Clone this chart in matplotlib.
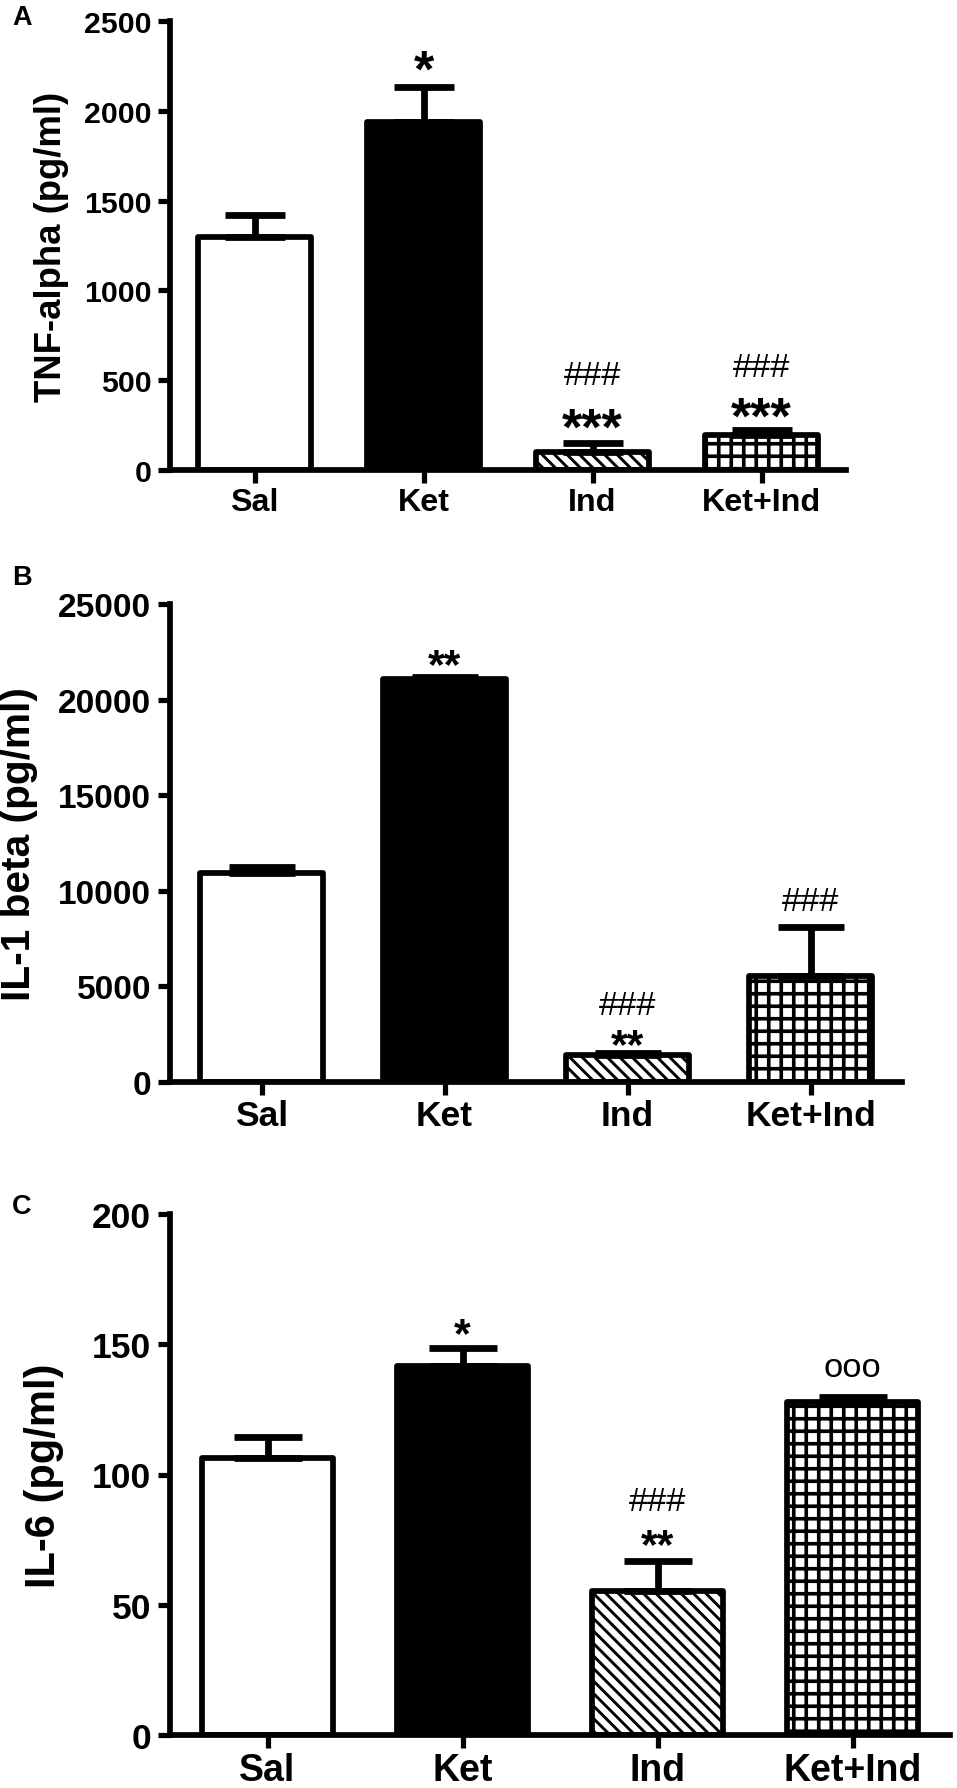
import matplotlib
matplotlib.use('Agg')
import matplotlib.pyplot as plt
from matplotlib.textpath import TextPath
from matplotlib.font_manager import FontProperties

groups = ['Sal', 'Ket', 'Ind', 'Ket+Ind']

tnf_mean = [1300, 1940, 100, 197]
tnf_sem = [120, 195, 49, 24]
il1_mean = [10950, 21100, 1390, 5520]
il1_sem = [280, 80, 140, 2590]
il6_mean = [106.5, 141.8, 55.2, 127.8]
il6_sem = [8.0, 6.7, 11.5, 2.1]

# significance marks: (bar index, text, y in data units)
tnf_marks = [(1, '*', 2288), (2, '***', 295), (2, '###', 546),
             (3, '***', 356), (3, '###', 590)]
il1_marks = [(1, '**', 22300), (2, '**', 2440), (2, '###', 4160),
             (3, '###', 9600)]
il6_marks = [(1, '*', 157.6), (2, '**', 76.5), (2, '###', 90.8),
             (3, 'ooo', 141.3)]

FONT = 'Liberation Sans'
plt.rcParams['font.family'] = [FONT, 'DejaVu Sans']
plt.rcParams['hatch.linewidth'] = 3.0
plt.rcParams['hatch.color'] = 'black'

DPI = 75
W, H = 957, 1789
fig = plt.figure(figsize=(W / DPI, H / DPI), dpi=DPI)

faces = ['white', 'black', 'white', 'white']
hatches = [None, None, '\\\\', '+']
hatch_lw = [None, None, 2.8, 3.5]

# panel layout in pixels: left, right, top, bottom
panels = [
    dict(box=(170, 846, 22, 471), mean=tnf_mean, sem=tnf_sem, marks=tnf_marks,
         ylim=2500, yticks=[0, 500, 1000, 1500, 2000, 2500],
         ylabel='TNF-alpha (pg/ml)', tick_fs=29, lab_fs=35, x_fs=31,
         star_fs=50, mark_fs=33, cap=29, letter='A', letter_y=18, lab_x=-0.150),
    dict(box=(170, 902, 605, 1083), mean=il1_mean, sem=il1_sem, marks=il1_marks,
         ylim=25000, yticks=[0, 5000, 10000, 15000, 20000, 25000],
         ylabel='IL-1 beta (pg/ml)', tick_fs=32, lab_fs=39, x_fs=34,
         star_fs=41, mark_fs=33, cap=32, letter='B', letter_y=578, lab_x=-0.180),
    dict(box=(170, 950, 1215, 1736), mean=il6_mean, sem=il6_sem, marks=il6_marks,
         ylim=200, yticks=[0, 50, 100, 150, 200],
         ylabel='IL-6 (pg/ml)', tick_fs=34, lab_fs=40, x_fs=36,
         star_fs=41, mark_fs=33, cap=33, letter='C', letter_y=1207, lab_x=-0.136),
]


def ink_center(s, weight):
    # height of the glyphs' ink centre above the baseline, per unit font size
    tp = TextPath((0, 0), s, size=1, prop=FontProperties(family=FONT, weight=weight))
    ext = tp.get_extents()
    return (ext.y0 + ext.y1) / 2


x = list(range(len(groups)))
for p in panels:
    l, r, t, b = p['box']
    ax = fig.add_axes([l / W, 1 - b / H, (r - l) / W, (b - t) / H])

    bars = ax.bar(x, p['mean'], width=0.67, color=faces, edgecolor='black',
                  linewidth=5.5, joinstyle='round', zorder=2)
    for bar, h, hl in zip(bars, hatches, hatch_lw):
        if h:
            bar.set_hatch(h)
            if hasattr(bar, 'set_hatch_linewidth'):
                bar.set_hatch_linewidth(hl)
    ax.errorbar(x, p['mean'], yerr=[[0] * 4, p['sem']], fmt='none',
                ecolor='black', elinewidth=6.5, capsize=p['cap'],
                capthick=6.5, zorder=3)

    for i, s, y in p['marks']:
        if s[0] == '*':
            fs, fw = p['star_fs'], 'bold'
        else:
            fs, fw = p['mark_fs'], 'normal'
        k = ink_center(s, fw)
        ax.annotate(s, (i, y), xytext=(0, -k * fs),
                    textcoords='offset points', ha='center', va='baseline',
                    fontsize=fs, fontweight=fw, annotation_clip=False)

    ax.set_xlim(-0.5, 3.5)
    ax.set_ylim(0, p['ylim'])
    ax.set_yticks(p['yticks'])
    ax.set_xticks(x)
    ax.set_xticklabels(groups, fontsize=p['x_fs'], fontweight='bold')
    for lab in ax.get_yticklabels():
        lab.set_fontsize(p['tick_fs'])
        lab.set_fontweight('bold')
    ax.tick_params(axis='both', direction='out', length=12, width=5, pad=6)
    ax.tick_params(axis='x', pad=4)
    for side in ['top', 'right']:
        ax.spines[side].set_visible(False)
    for side in ['left', 'bottom']:
        ax.spines[side].set_linewidth(5.5)
    ax.set_ylabel(p['ylabel'], fontsize=p['lab_fs'], fontweight='bold')
    ax.yaxis.set_label_coords(p['lab_x'], 0.5)

    fig.text(22 / W, 1 - p['letter_y'] / H, p['letter'], fontsize=26,
             fontweight='bold', ha='center', va='center')

fig.savefig('out.png', dpi=DPI)
